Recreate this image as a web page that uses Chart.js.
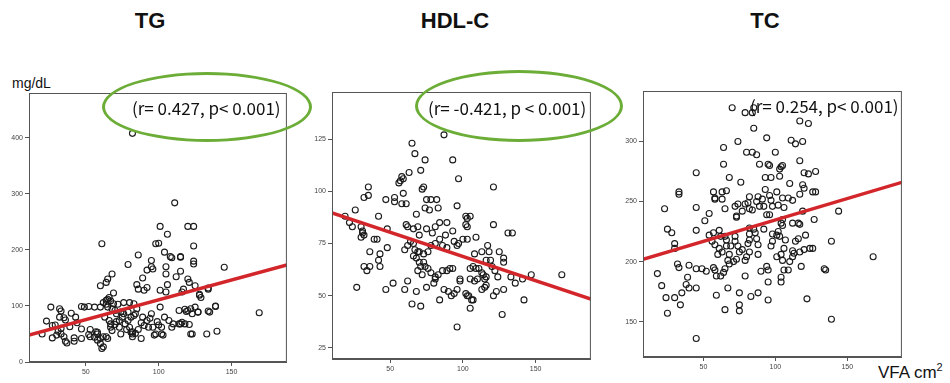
<!DOCTYPE html>
<html>
<head>
<meta charset="utf-8">
<script src="https://cdn.jsdelivr.net/npm/chart.js@4"></script>
<style>
  html, body { margin: 0; padding: 0; background: #fff; }
  body { width: 950px; height: 383px; position: relative; overflow: hidden; font-family: "Liberation Sans", Arial, sans-serif; }
  .panel { position: absolute; }
  .title { position: absolute; top: 8px; font-weight: bold; font-size: 22px; transform: translateX(-50%); color: #111; }
  .stat { position: absolute; font-family: "Noto Sans CJK JP", "DejaVu Sans", sans-serif; font-size: 17px; line-height: 20px; color: #111; white-space: nowrap; }
  .ring { position: absolute; box-sizing: border-box; border: 3px solid #6cad37; border-radius: 50%; }
  .unit { position: absolute; font-size: 14px; color: #111; }
</style>
</head>
<body>
<div class="title" style="left:150px">TG</div>
<div class="title" style="left:455px">HDL-C</div>
<div class="title" style="left:765px">TC</div>
<div class="unit" style="left:12px; top:75px">mg/dL</div>
<div class="unit" style="left:878px; top:361px; font-size:17px">VFA cm<sup style="font-size:11px">2</sup></div>

<div class="panel" style="left:-1px; top:85px"><canvas id="tg" width="293" height="297"></canvas></div>
<div class="panel" style="left:302px; top:84px"><canvas id="hdl" width="294" height="295"></canvas></div>
<div class="panel" style="left:613px; top:83px"><canvas id="tc" width="294" height="294"></canvas></div>

<div class="ring" style="left:102px; top:72px; width:210px; height:70px"></div>
<div class="ring" style="left:415px; top:70px; width:208px; height:72px"></div>
<div class="stat" style="left:132px; top:98px">(r= 0.427, p&lt; 0.001)</div>
<div class="stat" style="left:428px; top:98px">(r= -0.421, p &lt; 0.001)</div>
<div class="stat" style="left:750px; top:96px">(r= 0.254, p&lt; 0.001)</div>

<script>
// VFA (cm2) vs lipid values
const tgPoints = [
  [82,408],[111,284],[101,242],[106,228],[120,242],[124,242],[61,211],[98,211],[100,212],[86,191],
  [124,207],[108,188],[79,174],[115,188],[95,181],[95,170],[96,166],[92,164],[105,170],[124,175],
  [145,169],[68,157],[65,148],[64,142],[60,136],[115,162],[89,150],[112,152],[120,148],[121,142],
  [105,157],[85,138],[86,130],[92,133],[90,128],[101,128],[106,138],[105,125],[117,130],[116,125],
  [134,130],[128,119],[129,115],[125,136],[69,123],[66,115],[64,110],[60,98],[56,98],[47,99],
  [49,98],[52,99],[26,98],[32,95],[33,91],[40,87],[43,80],[32,80],[35,79],[23,73],
  [27,65],[20,50],[27,43],[31,55],[33,50],[35,45],[36,37],[37,34],[42,43],[42,37],
  [47,59],[47,42],[52,49],[53,45],[58,53],[58,39],[60,33],[61,24],[62,27],[64,45],
  [65,42],[67,62],[68,56],[71,86],[73,74],[73,62],[74,50],[77,68],[79,74],[80,62],
  [81,53],[82,50],[84,86],[85,95],[88,42],[89,80],[92,74],[93,62],[95,86],[96,62],
  [97,48],[98,50],[101,98],[102,62],[103,48],[102,50],[104,80],[107,74],[110,68],[109,62],
  [114,68],[116,71],[122,95],[125,98],[123,86],[127,89],[121,67],[123,50],[134,91],[133,50],
  [139,99],[140,55],[169,88],[65,112],[67,109],[62,106],[64,103],[69,104],[72,103],[76,106],
  [80,106],[83,104],[65,98],[68,95],[70,92],[74,89],[76,86],[79,89],[81,80],[83,83],
  [63,80],[66,74],[67,68],[70,67],[71,72],[57,54],[58,50],[60,42],[62,45],[82,54],
  [84,51],[82,45],[30,48],[33,60],[29,66],[36,75],[39,63],[44,70],[88,70],[90,65],
  [94,78],[99,72],[100,66],[86,58],[78,58],[75,80],[56,44],[53,58],[109,186],[104,196],
  [115,187],[124,180],[134,132],[128,121],[139,100],[135,89],[127,89],[122,50],[118,94],[119,90],
  [120,92],[114,92],[115,68],[118,68]
];
const hdlPoints = [
  [87,127],[65,123],[67,118],[74,115],[93,115],[63,109],[71,110],[58,107],[57,105],[56,104],
  [59,106],[97,106],[35,102],[35,98],[32,97],[121,102],[47,96],[53,97],[53,95],[59,99],
  [58,94],[61,94],[72,101],[73,102],[75,96],[78,96],[82,96],[77,91],[83,92],[96,93],
  [19,88],[26,91],[42,88],[68,89],[74,92],[102,88],[103,87],[105,88],[24,83],[22,85],
  [30,83],[31,81],[32,79],[48,82],[61,84],[62,83],[66,82],[69,83],[81,83],[84,85],
  [89,85],[93,81],[102,84],[103,83],[121,84],[131,80],[134,80],[30,78],[31,80],[39,77],
  [41,77],[36,71],[43,70],[42,67],[48,73],[60,72],[62,74],[64,76],[66,75],[67,72],
  [69,71],[70,71],[73,70],[76,71],[78,74],[81,75],[84,77],[88,79],[86,74],[89,73],
  [94,76],[97,75],[96,74],[100,77],[103,77],[109,78],[108,70],[113,71],[117,74],[118,71],
  [125,71],[128,68],[128,66],[32,64],[36,64],[34,62],[43,64],[27,54],[52,56],[62,57],
  [60,53],[68,52],[75,54],[47,53],[65,46],[71,45],[84,48],[81,59],[81,58],[80,56],
  [83,60],[86,62],[89,62],[91,63],[93,63],[87,53],[90,52],[92,50],[94,51],[96,53],
  [98,58],[98,57],[105,63],[107,64],[109,63],[111,63],[102,51],[103,50],[104,50],[106,48],
  [107,48],[105,44],[96,35],[105,58],[108,57],[110,58],[113,61],[114,60],[116,59],[115,58],
  [113,53],[115,54],[116,55],[120,64],[122,62],[124,59],[121,50],[123,52],[128,53],[127,41],
  [133,59],[136,56],[141,58],[147,60],[142,48],[168,60],[116,67],[119,67],[68,68],[70,66],
  [71,64],[69,62],[72,60],[74,64],[76,63],[78,61],[66,69],[73,66],[75,82],[70,79],[79,80]
];
const tcPoints = [
  [70,328],[79,324],[84,324],[85,328],[85,311],[117,317],[123,315],[94,303],[74,300],[64,295],
  [111,301],[114,298],[119,300],[100,291],[80,291],[84,291],[87,289],[64,281],[89,281],[95,281],
  [96,280],[104,279],[103,277],[105,280],[117,284],[45,274],[68,270],[76,266],[93,270],[97,270],
  [103,271],[110,265],[120,274],[123,273],[128,275],[119,264],[120,261],[126,258],[128,258],[117,256],
  [33,258],[33,256],[23,244],[45,245],[54,240],[51,234],[57,258],[58,253],[58,252],[63,258],
  [66,259],[63,252],[65,244],[72,246],[74,248],[73,237],[73,238],[79,248],[81,249],[82,254],
  [77,242],[82,244],[84,243],[87,250],[88,254],[89,246],[91,252],[92,246],[96,255],[97,251],
  [98,246],[94,239],[96,239],[93,260],[101,258],[102,247],[106,245],[105,253],[109,253],[112,251],
  [119,242],[112,232],[116,232],[117,231],[127,235],[144,242],[25,227],[28,224],[45,226],[54,222],
  [57,224],[61,226],[62,221],[65,221],[66,218],[72,221],[72,217],[82,223],[82,228],[85,227],
  [92,227],[98,223],[101,222],[102,225],[103,221],[105,235],[104,232],[105,230],[114,217],[116,219],
  [121,222],[30,215],[30,211],[56,217],[58,214],[61,211],[63,208],[60,206],[66,213],[68,206],
  [69,213],[74,213],[75,208],[77,210],[81,215],[82,218],[88,214],[86,224],[87,219],[80,204],
  [79,201],[82,208],[88,206],[97,213],[98,217],[106,211],[107,218],[112,209],[113,207],[112,204],
  [110,200],[104,206],[105,201],[101,204],[117,208],[120,210],[124,211],[126,211],[118,196],[134,194],
  [135,193],[168,204],[139,217],[67,201],[68,198],[65,194],[64,191],[73,202],[71,200],[57,195],
  [58,193],[45,194],[49,194],[52,192],[40,197],[32,198],[33,195],[18,190],[39,187],[38,181],
  [40,178],[45,178],[35,174],[24,170],[30,170],[34,164],[21,180],[25,157],[90,192],[95,193],
  [94,196],[79,188],[59,188],[62,188],[59,172],[67,178],[75,174],[83,171],[88,174],[95,183],
  [104,187],[104,183],[95,168],[75,164],[75,159],[65,160],[122,169],[139,152],[45,136],[106,193],
  [109,193]
];

// regression lines (end points at the plot edges)
const tgFit = [[11, 48], [188, 173]];
const hdlFit = [[10, 89.6], [188, 48.4]];
const tcFit = [[8, 202], [188, 266]];

const tgTicks = [0, 100, 200, 300, 400];
const hdlTicks = [25, 50, 75, 100, 125];
const tcTicks = [150, 200, 250, 300];
const vfaTicks = [50, 100, 150];

const frame = {
  id: "frame",
  afterDraw(chart) {
    const { ctx, chartArea: a } = chart;
    ctx.save();
    ctx.strokeStyle = "#555";
    ctx.lineWidth = 1;
    ctx.strokeRect(a.left + 0.5, a.top + 0.5, a.right - a.left - 1, a.bottom - a.top - 1);
    ctx.restore();
  },
};

const toXY = (pts) => pts.map(([x, y]) => ({ x, y }));

function makeChart(id, points, fit, xRange, yRange, yTicks) {
  const axisBase = {
    type: "linear",
    border: { display: true, color: "#555" },
    grid: { drawOnChartArea: false, drawTicks: true, tickLength: 4, color: "#555" },
  };
  new Chart(document.getElementById(id), {
    type: "scatter",
    data: {
      datasets: [
        {
          data: toXY(points),
          pointStyle: "circle",
          pointRadius: 3,
          pointBorderWidth: 1.1,
          borderColor: "#1a1a1a",
          backgroundColor: "rgba(0,0,0,0)",
          order: 2,
        },
        {
          type: "line",
          data: toXY(fit),
          borderColor: "#d3262b",
          borderWidth: 3.5,
          pointRadius: 0,
          order: 1,
        },
      ],
    },
    options: {
      responsive: false,
      animation: false,
      layout: { padding: { top: 8, right: 4, left: 0, bottom: 0 } },
      plugins: { legend: { display: false }, tooltip: { enabled: false } },
      scales: {
        x: {
          ...axisBase,
          min: xRange[0],
          max: xRange[1],
          afterFit: (s) => { s.height = 20; },
          afterBuildTicks: (s) => { s.ticks = vfaTicks.map((v) => ({ value: v })); },
          ticks: { font: { size: 7, family: "Liberation Sans" }, color: "#444", padding: 2, maxRotation: 0 },
        },
        y: {
          ...axisBase,
          min: yRange[0],
          max: yRange[1],
          afterFit: (s) => { s.width = 30; },
          afterBuildTicks: (s) => { s.ticks = yTicks.map((v) => ({ value: v })); },
          ticks: { font: { size: 7, family: "Liberation Sans" }, color: "#444", padding: 2 },
        },
      },
    },
    plugins: [frame],
  });
}

makeChart("tg", tgPoints, tgFit, [11, 188], [0, 480], tgTicks);
makeChart("hdl", hdlPoints, hdlFit, [10, 188], [19.7, 147.5], hdlTicks);
makeChart("tc", tcPoints, tcFit, [8, 188], [120.6, 342], tcTicks);
</script>
</body>
</html>
